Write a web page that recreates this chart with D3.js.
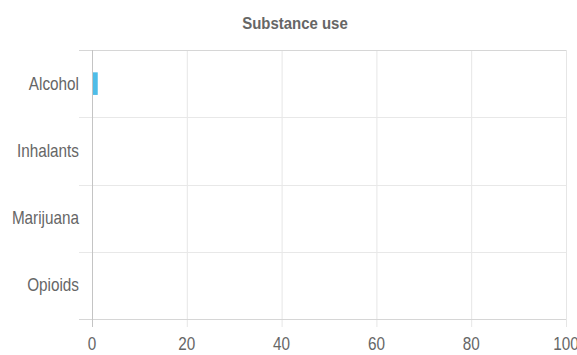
<!DOCTYPE html>
<html><head><meta charset="utf-8">
<script src="https://cdn.jsdelivr.net/npm/d3@7"></script>
<style>
html,body{margin:0;padding:0;background:#fff;}
svg{display:block;}
text{font-family:"Liberation Sans",Arial,Helvetica,sans-serif;fill:#666;}
</style></head>
<body>
<script>
const title = "Substance use";
const categories = ["Alcohol", "Inhalants", "Marijuana", "Opioids"];
const values = [1, 0, 0, 0];
const xTicks = [0, 20, 40, 60, 80, 100];

const W = 577, H = 355;
const m = {left: 92, right: 11, top: 50, bottom: 36};
const svg = d3.select("body").append("svg").attr("width", W).attr("height", H);

const x = d3.scaleLinear().domain([0, 100]).range([m.left, W - m.right]);
const y = d3.scaleBand().domain(categories).range([m.top, H - m.bottom]);
const sx = 0.85;

// title
svg.append("text").attr("x", 0).attr("y", 0)
  .attr("transform", `translate(295,29) scale(0.88,1)`)
  .attr("text-anchor", "middle").attr("font-size", 17).attr("font-weight", "bold")
  .text(title);

// vertical gridlines + ticks
const gx = svg.append("g");
gx.selectAll("line").data(xTicks).enter().append("line")
  .attr("x1", d => x(d) + 0.5).attr("x2", d => x(d) + 0.5)
  .attr("y1", m.top).attr("y2", H - m.bottom + 8)
  .attr("stroke", d => d === 0 ? "#c4c4c4" : "#e6e6e6").attr("stroke-width", 1);
gx.selectAll("text").data(xTicks).enter().append("text")
  .attr("transform", d => `translate(${x(d)},${H - 5}) scale(${sx},1)`)
  .attr("text-anchor", "middle").attr("font-size", 18).text(d => d);

// horizontal gridlines at band boundaries
const bounds = categories.map(c => y(c)).concat([y.range()[1]]);
svg.append("g").selectAll("line").data(bounds).enter().append("line")
  .attr("x1", m.left - 13).attr("x2", W - m.right)
  .attr("y1", d => Math.round(d) + 0.5).attr("y2", d => Math.round(d) + 0.5)
  .attr("stroke", (d, i) => (i === 0 || i === bounds.length - 1) ? "#d6d6d6" : "#e8e8e8").attr("stroke-width", 1);

// re-draw left axis on top
svg.append("line").attr("x1", x(0) + 0.5).attr("x2", x(0) + 0.5)
  .attr("y1", m.top).attr("y2", H - m.bottom + 8).attr("stroke", "#c4c4c4");

// category labels
svg.append("g").selectAll("text").data(categories).enter().append("text")
  .attr("transform", d => `translate(${m.left - 13},${y(d) + y.bandwidth() / 2 + 6}) scale(${sx},1)`)
  .attr("text-anchor", "end").attr("font-size", 18).text(d => d);

// bars
const barH = 22.6;
svg.append("g").selectAll("rect").data(values).enter().append("rect")
  .attr("x", x(0) + 1).attr("width", (d) => Math.max(0, x(d) - x(0)))
  .attr("y", (d, i) => y(categories[i]) + y.bandwidth() / 2 - barH / 2)
  .attr("height", barH).attr("fill", "#4ebde8");
</script>
</body></html>
